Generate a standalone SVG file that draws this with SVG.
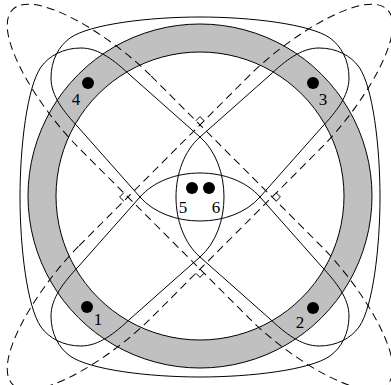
<svg xmlns="http://www.w3.org/2000/svg" width="391" height="385" viewBox="0 0 391 385">
<defs>
<style>
.cup{fill:none;stroke:#000;stroke-width:1}
.dash{fill:none;stroke:#000;stroke-width:1;stroke-dasharray:8,5}
.mark{fill:none;stroke:#000;stroke-width:1}
.dot{fill:#000}
.lbl{font-family:"Liberation Serif","Times New Roman",serif;font-size:17px;fill:#000;text-anchor:middle}
</style>
<path id="cupShape" d="M 260,197 L 322,127 C 336,112 349,96 349,78 C 349,60 341,46 330,38 C 310,24 250,17 200,17 C 150,17 90,24 70,38 C 59,46 51,60 51,78 C 51,96 64,112 78,127 L 140,197 C 168,229 232,229 260,197 Z"/>
<path id="bandShape" d="M -120,-51 L 120,-51 C 180,-51 265,-30 265,0 C 265,30 180,51 120,51 L -120,51 C -180,51 -265,30 -265,0 C -265,-30 -180,-51 -120,-51 Z"/>
</defs>
<rect width="391" height="385" fill="#fff"/>
<g id="ring">
<path d="M 200,24 A 172,172 0 1,1 199.99,24 Z M 200,52 A 144,144 0 1,0 200.01,52 Z" fill="#c0c0c0" fill-rule="evenodd" stroke="#000" stroke-width="1"/>
</g>
<g id="solid-curves">
<use href="#cupShape" class="cup"/>
<use href="#cupShape" class="cup" transform="rotate(90 200 197)"/>
<use href="#cupShape" class="cup" transform="rotate(180 200 197)"/>
<use href="#cupShape" class="cup" transform="rotate(270 200 197)"/>
</g>
<g id="dashed-curves">
<use href="#bandShape" class="dash" transform="translate(200 197) rotate(45)"/>
<use href="#bandShape" class="dash" transform="translate(200 197) rotate(-45)"/>
</g>
<g id="right-angle-marks">
<polyline class="mark" points="195.8,120.8 200,116.6 204.2,120.8"/>
<polyline class="mark" points="276.2,192.8 280.4,197 276.2,201.2"/>
<polyline class="mark" points="195.8,273.2 200,277.4 204.2,273.2"/>
<polyline class="mark" points="123.8,192.8 119.6,197 123.8,201.2"/>
</g>
<g id="point-1"><circle class="dot" cx="87" cy="307" r="6"/><text class="lbl" x="98" y="325">1</text></g>
<g id="point-2"><circle class="dot" cx="313" cy="308" r="6"/><text class="lbl" x="300" y="328">2</text></g>
<g id="point-3"><circle class="dot" cx="313" cy="83" r="6"/><text class="lbl" x="323" y="105">3</text></g>
<g id="point-4"><circle class="dot" cx="88" cy="83" r="6"/><text class="lbl" x="76" y="105">4</text></g>
<g id="point-5"><circle class="dot" cx="192" cy="188" r="6"/><text class="lbl" x="183" y="213">5</text></g>
<g id="point-6"><circle class="dot" cx="209" cy="188" r="6"/><text class="lbl" x="216" y="213">6</text></g>
</svg>
